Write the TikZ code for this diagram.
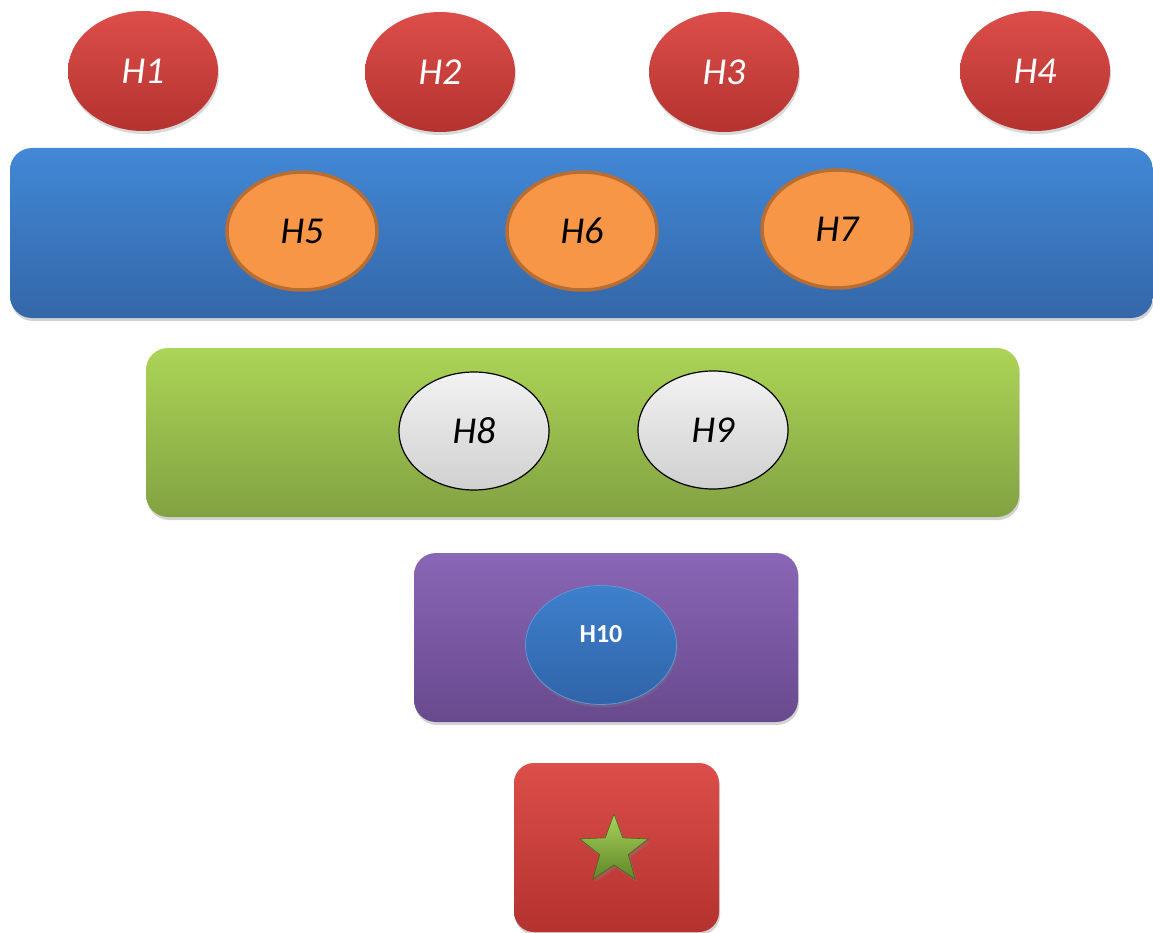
\documentclass[tikz,border=0pt]{standalone}
\usepackage{fontspec}
\setmainfont{Carlito}
\usetikzlibrary{shapes.geometric,shadows}
\definecolor{redT}{RGB}{220,78,74}
\definecolor{redB}{RGB}{180,50,47}
\definecolor{blueT}{RGB}{66,136,214}
\definecolor{blueB}{RGB}{52,103,168}
\definecolor{orFill}{RGB}{247,150,70}
\definecolor{orLine}{RGB}{184,110,50}
\definecolor{grT}{RGB}{172,212,86}
\definecolor{grB}{RGB}{130,162,66}
\definecolor{gyT}{RGB}{242,242,242}
\definecolor{gyB}{RGB}{208,208,208}
\definecolor{puT}{RGB}{138,102,182}
\definecolor{puB}{RGB}{104,74,142}
\definecolor{hbT}{RGB}{62,128,204}
\definecolor{hbB}{RGB}{48,100,168}
\definecolor{hbLine}{RGB}{95,150,215}
\definecolor{stT}{RGB}{170,210,90}
\definecolor{stB}{RGB}{95,135,40}
\definecolor{stLine}{RGB}{70,100,30}
\tikzset{
  lbl/.style={font=\fontsize{38}{40}\selectfont\itshape},
  redell/.style={ellipse, minimum width=150pt, minimum height=120pt, inner sep=0pt,
    top color=redT, bottom color=redB, draw=none, text=white, lbl,
    drop shadow={opacity=0.3, shadow xshift=1pt, shadow yshift=-3pt}},
  orell/.style={ellipse, minimum width=150pt, minimum height=118pt, inner sep=0pt,
    fill=orFill, draw=orLine, line width=3.5pt, text=black, lbl},
  gyell/.style={ellipse, minimum width=150pt, minimum height=118pt, inner sep=0pt,
    top color=gyT, bottom color=gyB, draw=black, line width=1.2pt, text=black, lbl},
  bar/.style={rounded corners=22pt, drop shadow={opacity=0.35, shadow xshift=1pt, shadow yshift=-3pt}},
}
\begin{document}
\begin{tikzpicture}[x=1pt,y=-1pt]
\useasboundingbox (0,0) rectangle (1153,933);
% top red ellipses
\node[redell] (h1) at (143,71) {H1};
\node[redell] (h2) at (440,72) {H2};
\node[redell] (h3) at (724,72) {H3};
\node[redell] (h4) at (1035,71) {H4};
% blue bar
\path[bar, top color=blueT, bottom color=blueB] (10,148) rectangle (1153,318);
\node[orell] (h5) at (302,231) {H5};
\node[orell] (h6) at (582,231) {H6};
\node[orell] (h7) at (837,229) {H7};
% green bar
\path[bar, top color=grT, bottom color=grB] (146,348) rectangle (1019,517);
\node[gyell] (h8) at (474,431) {H8};
\node[gyell] (h9) at (713,430) {H9};
% purple bar
\path[bar, top color=puT, bottom color=puB] (414,553) rectangle (798,722);
\node[ellipse, minimum width=151pt, minimum height=119pt, inner sep=0pt,
  top color=hbT, bottom color=hbB, draw=hbLine, line width=0.8pt,
  drop shadow={opacity=0.3, shadow xshift=1pt, shadow yshift=-3pt}] (h10) at (601,645) {};
\node[text=white, font=\fontsize{26}{28}\selectfont\bfseries] (h10t) at (601,634) {H10};
% red box with star
\path[bar, rounded corners=20pt, top color=redT, bottom color=redB] (514,763) rectangle (719,932);
\node[star, star points=5, star point ratio=2.4, minimum size=72pt, inner sep=0pt,
  top color=stT, bottom color=stB, draw=stLine, line width=0.6pt,
  drop shadow={opacity=0.4, shadow xshift=2pt, shadow yshift=-3pt}] (star) at (614,850) {};
\end{tikzpicture}
\end{document}
